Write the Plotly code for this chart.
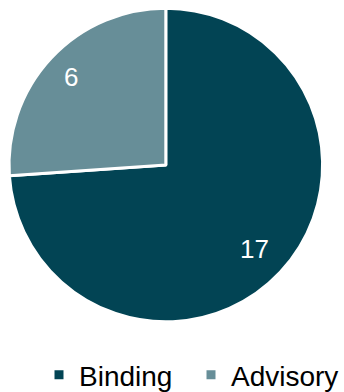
import math
import plotly.graph_objects as go

labels = ["Binding", "Advisory"]
values = [17, 6]
colors = ["#024454", "#678e98"]

W, H = 344, 392
cx, cy, r = 165.8, 165.0, 156.8
label_radius = 0.8  # fraction of the pie radius where value labels sit
label_nudge = (-3, -2)  # small pixel nudge of value labels

fig = go.Figure(go.Pie(
    labels=labels,
    values=values,
    marker=dict(colors=colors, line=dict(color="white", width=3)),
    sort=False,
    direction="clockwise",
    rotation=0,
    textinfo="none",
    hoverinfo="label+value",
    domain=dict(x=[(cx - r) / W, (cx + r) / W], y=[1 - (cy + r) / H, 1 - (cy - r) / H]),
))

# value labels placed along each slice's mid-angle
total = sum(values)
cum = 0
annotations = []
for v in values:
    theta = 2 * math.pi * (cum + v / 2) / total
    cum += v
    px = cx + label_radius * r * math.sin(theta) + label_nudge[0]
    py = cy - label_radius * r * math.cos(theta) + label_nudge[1]
    annotations.append(dict(
        x=px / W, y=1 - py / H, xref="paper", yref="paper",
        text=str(v), showarrow=False, xanchor="center", yanchor="middle",
        font=dict(family="Arial, Liberation Sans, sans-serif", size=26, color="white"),
    ))

fig.update_layout(
    width=W, height=H,
    margin=dict(l=0, r=0, t=0, b=0, autoexpand=False),
    paper_bgcolor="white",
    plot_bgcolor="white",
    showlegend=True,
    annotations=annotations,
    legend=dict(
        orientation="h",
        x=39 / W, xanchor="left",
        y=1 - 350 / H, yanchor="top",
        font=dict(family="Arial, Liberation Sans, sans-serif", size=28, color="black"),
        entrywidth=107, entrywidthmode="pixels",
        itemclick=False, itemdoubleclick=False,
    ),
)

fig.write_html("out.html")
